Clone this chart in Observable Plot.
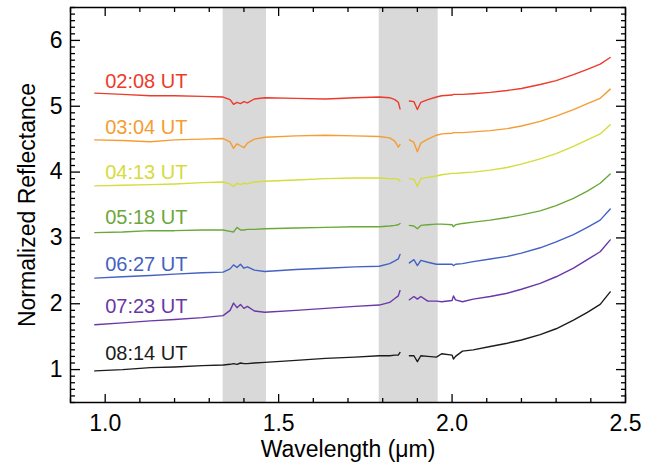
<!DOCTYPE html>
<html>
<head>
<meta charset="utf-8">
<script src="https://cdn.jsdelivr.net/npm/d3@7"></script>
<script src="https://cdn.jsdelivr.net/npm/@observablehq/plot@0.6"></script>
<style>
  html, body { margin: 0; padding: 0; background: #fff; }
  #chart svg { display: block; }
</style>
</head>
<body>
<div id="chart"></div>
<script>
// Wavelength grid (µm); null values mark the gap in the spectra
const wavelength = [0.97, 1.05, 1.13, 1.2, 1.28, 1.34, 1.36, 1.37, 1.38, 1.39, 1.40, 1.41, 1.43, 1.46, 1.55, 1.635, 1.72, 1.79, 1.82, 1.835, 1.845, 1.85, 1.862, 1.877, 1.89, 1.90, 1.91, 1.93, 1.955, 1.97, 2.0, 2.004, 2.01, 2.03, 2.061, 2.11, 2.159, 2.2, 2.254, 2.3, 2.35, 2.39, 2.427, 2.456];

const s0208 = [5.20, 5.18, 5.16, 5.16, 5.15, 5.14, 5.10, 5.03, 5.06, 5.04, 5.07, 5.05, 5.11, 5.13, 5.12, 5.11, 5.13, 5.14, 5.13, 5.10, 5.06, 4.96, null, 5.08, 5.07, 4.95, 5.06, 5.10, 5.14, 5.16, 5.17, 5.18, 5.18, 5.18, 5.19, 5.21, 5.24, 5.27, 5.33, 5.39, 5.48, 5.56, 5.64, 5.74];
const s0304 = [4.49, 4.48, 4.46, 4.49, 4.50, 4.51, 4.46, 4.36, 4.43, 4.40, 4.37, 4.44, 4.50, 4.53, 4.55, 4.56, 4.55, 4.54, 4.52, 4.47, 4.38, 4.42, null, 4.49, 4.45, 4.31, 4.44, 4.50, 4.56, 4.58, 4.59, 4.60, 4.60, 4.60, 4.61, 4.63, 4.66, 4.70, 4.77, 4.85, 4.95, 5.04, 5.12, 5.26];
const s0413 = [3.79, 3.80, 3.81, 3.82, 3.84, 3.85, 3.82, 3.78, 3.83, 3.81, 3.83, 3.82, 3.85, 3.86, 3.88, 3.90, 3.91, 3.91, 3.90, 3.90, 3.89, 3.86, null, 3.90, 3.89, 3.78, 3.90, 3.92, 3.94, 3.96, 3.98, 3.98, 3.98, 3.99, 4.00, 4.03, 4.07, 4.12, 4.20, 4.28, 4.39, 4.49, 4.58, 4.72];
const s0518 = [3.08, 3.09, 3.11, 3.11, 3.12, 3.12, 3.10, 3.09, 3.16, 3.12, 3.12, 3.13, 3.13, 3.14, 3.15, 3.16, 3.17, 3.17, 3.18, 3.19, 3.20, 3.22, null, 3.19, 3.18, 3.14, 3.19, 3.20, 3.21, 3.21, 3.20, 3.17, 3.20, 3.22, 3.24, 3.27, 3.31, 3.35, 3.41, 3.49, 3.60, 3.71, 3.83, 3.97];
const s0627 = [2.39, 2.41, 2.43, 2.45, 2.47, 2.48, 2.53, 2.59, 2.55, 2.60, 2.54, 2.56, 2.51, 2.49, 2.52, 2.54, 2.56, 2.57, 2.61, 2.65, 2.68, 2.75, null, 2.62, 2.67, 2.58, 2.66, 2.63, 2.60, 2.60, 2.60, 2.58, 2.60, 2.61, 2.64, 2.68, 2.72, 2.77, 2.85, 2.94, 3.05, 3.16, 3.27, 3.44];
const s0723 = [1.68, 1.71, 1.74, 1.76, 1.79, 1.82, 1.90, 2.01, 1.94, 1.99, 1.93, 1.96, 1.89, 1.87, 1.90, 1.93, 1.96, 1.98, 2.02, 2.08, 2.12, 2.20, null, 2.06, 2.11, 2.07, 2.11, 2.04, 2.04, 2.03, 2.05, 2.12, 2.06, 2.03, 2.07, 2.11, 2.16, 2.22, 2.31, 2.41, 2.54, 2.67, 2.79, 2.97];
const s0814 = [0.98, 1.00, 1.03, 1.04, 1.06, 1.07, 1.08, 1.09, 1.08, 1.10, 1.09, 1.09, 1.10, 1.11, 1.14, 1.17, 1.19, 1.21, 1.21, 1.22, 1.22, 1.26, null, 1.21, 1.21, 1.12, 1.21, 1.20, 1.19, 1.24, 1.22, 1.16, 1.20, 1.28, 1.30, 1.35, 1.40, 1.45, 1.53, 1.62, 1.75, 1.87, 1.99, 2.18];

const seriesNames = ["02:08 UT", "03:04 UT", "04:13 UT", "05:18 UT", "06:27 UT", "07:23 UT", "08:14 UT"];
const seriesValues = [s0208, s0304, s0413, s0518, s0627, s0723, s0814];
const seriesColors = ["#ec3b2b", "#f59d32", "#d5dc3b", "#6aa83a", "#4461c3", "#6a37a9", "#1c1c1c"];
const labelX = [1.0, 1.0, 1.0, 1.0, 1.0, 1.0, 1.0];
const labelY = [5.37, 4.68, 3.99, 3.31, 2.60, 1.95, 1.25];

// Shaded bands (µm)
const bandStart = [1.34, 1.79];
const bandEnd = [1.465, 1.96];

// Axis ticks
const xMajor = [1.0, 1.5, 2.0, 2.5];
const xMinor = d3.range(9, 26).map(d => d / 10).filter(d => !xMajor.includes(d));
const yMajor = [1, 2, 3, 4, 5, 6];
const yMinor = d3.range(5, 66).map(d => d / 10).filter(d => !yMajor.includes(d));

const rows = [];
seriesNames.forEach((name, i) => {
  wavelength.forEach((w, j) => rows.push({series: name, wl: w, v: seriesValues[i][j]}));
});
const labels = seriesNames.map((name, i) => ({series: name, x: labelX[i], y: labelY[i]}));
const bands = bandStart.map((s, i) => ({x1: s, x2: bandEnd[i]}));

const font = "'Liberation Sans', Arial, Helvetica, sans-serif";
const none = () => "";

const chart = Plot.plot({
  width: 655,
  height: 463,
  marginLeft: 70,
  marginRight: 30,
  marginTop: 7,
  marginBottom: 61,
  style: {fontFamily: font, fontSize: "23px", color: "#000", background: "#fff"},
  x: {domain: [0.9, 2.5]},
  y: {domain: [0.5, 6.5]},
  color: {domain: seriesNames, range: seriesColors},
  marks: [
    Plot.rect(bands, {x1: "x1", x2: "x2", fill: "#d9d9d9"}),
    Plot.line(rows, {x: "wl", y: "v", z: "series", stroke: "series", strokeWidth: 1.4}),
    Plot.text(labels, {x: "x", y: "y", text: "series", fill: "series", textAnchor: "start", fontSize: 20}),
    // x axis: labels
    Plot.axisX(xMajor, {anchor: "bottom", tickSize: 0, tickPadding: 12, tickFormat: d3.format(".1f"), fontSize: 23,
      label: "Wavelength (μm)", labelAnchor: "center", labelOffset: 54, labelArrow: "none"}),
    // inward ticks bottom/top
    Plot.axisX(xMajor, {anchor: "bottom", tickSize: -8, tickFormat: none, label: null, strokeWidth: 1.3}),
    Plot.axisX(xMinor, {anchor: "bottom", tickSize: -4, tickFormat: none, label: null, strokeWidth: 1.3}),
    Plot.axisX(xMajor, {anchor: "top", tickSize: -8, tickFormat: none, label: null, strokeWidth: 1.3}),
    Plot.axisX(xMinor, {anchor: "top", tickSize: -4, tickFormat: none, label: null, strokeWidth: 1.3}),
    // y axis: labels
    Plot.axisY(yMajor, {anchor: "left", tickSize: 0, tickPadding: 8, tickFormat: d3.format("d"), fontSize: 23,
      label: "Normalized Reflectance", labelAnchor: "center", labelOffset: 52, labelArrow: "none"}),
    Plot.axisY(yMajor, {anchor: "left", tickSize: -10, tickFormat: none, label: null, strokeWidth: 1.3}),
    Plot.axisY(yMinor, {anchor: "left", tickSize: -5, tickFormat: none, label: null, strokeWidth: 1.3}),
    Plot.axisY(yMajor, {anchor: "right", tickSize: -10, tickFormat: none, label: null, strokeWidth: 1.3}),
    Plot.axisY(yMinor, {anchor: "right", tickSize: -5, tickFormat: none, label: null, strokeWidth: 1.3}),
    Plot.frame({stroke: "#000", strokeWidth: 1.5})
  ]
});
document.getElementById("chart").appendChild(chart);
</script>
</body>
</html>
